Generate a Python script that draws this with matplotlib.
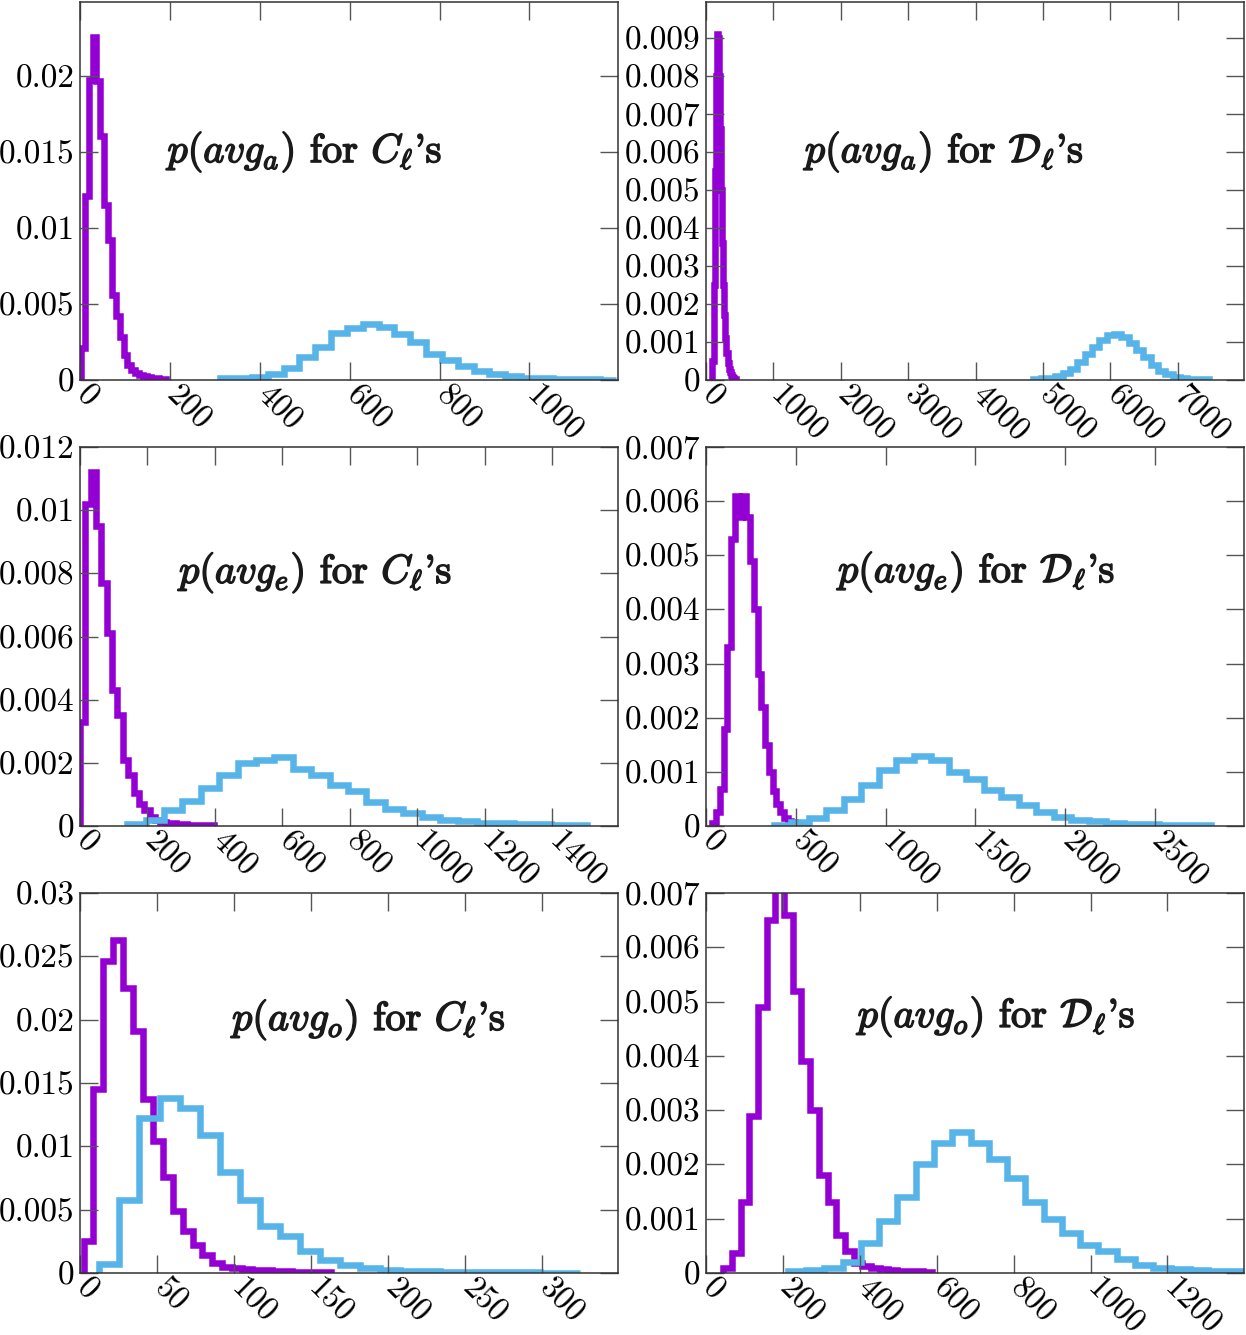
import numpy as np
import matplotlib.pyplot as plt
import matplotlib.patheffects as pe
import matplotlib.transforms as mtransforms
from matplotlib.ticker import MultipleLocator, FuncFormatter

plt.rcParams['font.family'] = 'cmr10'
plt.rcParams['mathtext.fontset'] = 'cm'
plt.rcParams['axes.formatter.use_mathtext'] = True

purple = '#9400d3'
blue = '#56b4e9'

# ---- histogram heights (density) ----
# C_ell, avg_a
cla_h1 = [0.00209, 0.01211, 0.01975, 0.02257, 0.0197, 0.01608, 0.01156, 0.00925,
          0.00562, 0.00419, 0.00286, 0.00165, 0.00099, 0.00066, 0.00044, 0.00033,
          0.00026, 0.00018, 0.00013, 0.0001, 0.00007, 0.00004]
cla_r1 = (2, 192)
cla_h2 = [0.0001, 0.00013, 0.0002, 0.0004, 0.0008, 0.0015, 0.0022, 0.0031, 0.0034,
          0.0037, 0.0035, 0.0030, 0.0025, 0.0017, 0.0013, 0.0009, 0.0006, 0.0004,
          0.00025, 0.00016, 0.0001, 0.00007, 0.00005, 0.00004, 0.00003]
cla_r2 = (312, 1193)

# D_ell, avg_a
dla_h1 = [0.0005, 0.0025, 0.0055, 0.0080, 0.0091, 0.0090, 0.0080, 0.0066, 0.0050,
          0.0036, 0.0025, 0.0017, 0.0011, 0.0007, 0.00045, 0.0003, 0.0002, 0.00012,
          0.00008, 0.00005, 0.00003, 0.00002]
dla_r1 = (96, 448)
dla_h2 = [0.00003, 0.00004, 0.00006, 0.0001, 0.00018, 0.0003, 0.00048, 0.00068,
          0.00088, 0.00105, 0.00118, 0.0012, 0.00112, 0.00098, 0.0008, 0.0006,
          0.0004, 0.00025, 0.00015, 0.00008, 0.00005, 0.00003, 0.00002, 0.00002]
dla_r2 = (4860, 7470)

# C_ell, avg_e
cle_h1 = [0.0033, 0.0102, 0.0112, 0.0095, 0.0077, 0.0061, 0.0043, 0.0035, 0.0021,
          0.0016, 0.00105, 0.0007, 0.0005, 0.0003, 0.0002, 0.00013, 0.0001, 0.00008,
          0.00006, 0.00005, 0.00004, 0.00003, 0.00003, 0.00002, 0.00002]
cle_r1 = (0, 397)
cle_h2 = [0.00005, 0.0002, 0.0005, 0.0008, 0.0012, 0.0016, 0.0020, 0.0021, 0.0022,
          0.0018, 0.0016, 0.0013, 0.0011, 0.00076, 0.00055, 0.0004, 0.00028, 0.0002,
          0.00015, 0.0001, 0.00008, 0.00006, 0.00005, 0.00004, 0.00003]
cle_r2 = (140, 1505)

# D_ell, avg_e
dle_h1 = [0.00006, 0.00025, 0.00068, 0.0018, 0.0033, 0.0053, 0.0061, 0.0057, 0.0061,
          0.0057, 0.0049, 0.0040, 0.0028, 0.0022, 0.0015, 0.0010, 0.00065, 0.0004,
          0.00025, 0.00015, 0.0001, 0.00007, 0.00005, 0.00003, 0.00002]
dle_r1 = (35, 560)
dle_h2 = [0.00002, 0.00007, 0.00014, 0.0003, 0.0005, 0.00075, 0.00103, 0.00121,
          0.0013, 0.00121, 0.001, 0.00087, 0.00066, 0.00054, 0.00038, 0.00026,
          0.00017, 0.00012, 0.00009, 0.00006, 0.00004, 0.00003, 0.00002, 0.00002,
          0.00001]
dle_r2 = (378, 2814)

# C_ell, avg_o
clo_h1 = [0.0025, 0.0145, 0.0246, 0.0263, 0.0225, 0.0191, 0.0137, 0.0104, 0.0076,
          0.0049, 0.0033, 0.0022, 0.0014, 0.0008, 0.0005, 0.0004, 0.0003, 0.00025,
          0.0002, 0.00015, 0.00012, 0.0001, 0.00008, 0.00006, 0.00005]
clo_r1 = (2.3, 163)
clo_h2 = [0.0007, 0.0058, 0.0122, 0.0138, 0.0130, 0.0109, 0.0080, 0.0058, 0.0037,
          0.0029, 0.0017, 0.00105, 0.00066, 0.0004, 0.00026, 0.00018, 0.00013,
          0.0001, 0.00008, 0.00006, 0.00005, 0.00004, 0.00003, 0.00003]
clo_r2 = (12.6, 324.5)

# D_ell, avg_o
dlo_h1 = [0.0001, 0.00037, 0.0013, 0.0029, 0.0049, 0.0065, 0.0071, 0.0066, 0.0052,
          0.0039, 0.0030, 0.0018, 0.0013, 0.0007, 0.0004, 0.00018, 0.00012, 0.00009,
          0.00007, 0.00005, 0.00004, 0.00003, 0.00003, 0.00002]
dlo_r1 = (45, 587)
dlo_h2 = [0.00003, 0.00005, 0.0001, 0.0002, 0.00055, 0.00095, 0.0014, 0.0020,
          0.0024, 0.0026, 0.0024, 0.0021, 0.00175, 0.0013, 0.0010, 0.00074, 0.00052,
          0.0004, 0.00025, 0.00015, 0.0001, 0.00008, 0.00006, 0.00004, 0.00004]
dlo_r2 = (213, 1400)

titles = [r"$p(avg_a)$ for $C_\ell$'s", r"$p(avg_a)$ for $\mathcal{D}_\ell$'s",
          r"$p(avg_e)$ for $C_\ell$'s", r"$p(avg_e)$ for $\mathcal{D}_\ell$'s",
          r"$p(avg_o)$ for $C_\ell$'s", r"$p(avg_o)$ for $\mathcal{D}_\ell$'s"]

# ---- layout ----
W, H = 1246, 1335
fig = plt.figure(figsize=(W / 100, H / 100), dpi=100)

col_x = [80, 706]
row_y = [(2, 380), (447, 826), (893, 1273)]
ax_w = 538

panels = [
    (cla_h1, cla_r1, cla_h2, cla_r2, 1197, 0.0249, 200, 0.005, (0.419, 0.603)),
    (dla_h1, dla_r1, dla_h2, dla_r2, 7985, 0.00995, 1000, 0.001, (0.444, 0.603)),
    (cle_h1, cle_r1, cle_h2, cle_r2, 1596, 0.012, 200, 0.002, (0.439, 0.668)),
    (dle_h1, dle_r1, dle_h2, dle_r2, 2996, 0.007, 500, 0.001, (0.504, 0.670)),
    (clo_h1, clo_r1, clo_h2, clo_r2, 349, 0.03, 50, 0.005, (0.538, 0.666)),
    (dlo_h1, dlo_r1, dlo_h2, dlo_r2, 1399, 0.007, 200, 0.001, (0.541, 0.674)),
]

fmt = FuncFormatter(lambda v, p: '%g' % round(v, 6))
# nudge rotated x labels so they start just left of the tick
lab_shift = mtransforms.ScaledTranslation(-0.09, 0.055, fig.dpi_scale_trans)

for i, (h1, r1, h2, r2, xmax, ymax, xs, ys, txy) in enumerate(panels):
    r, c = divmod(i, 2)
    top, bot = row_y[r]
    ax = fig.add_axes([col_x[c] / W, 1 - bot / H, ax_w / W, (bot - top) / H])

    e1 = np.linspace(r1[0], r1[1], len(h1) + 1)
    e2 = np.linspace(r2[0], r2[1], len(h2) + 1)
    ax.stairs(h1, e1, baseline=0, fill=False, color=purple, lw=4.7)
    ax.stairs(h2, e2, baseline=0, fill=False, color=blue, lw=4.7)

    ax.set_xlim(0, xmax)
    ax.set_ylim(0, ymax)
    xt = np.arange(0, xmax, xs)
    ax.set_xticks(xt, ['%g' % v for v in xt], rotation=-45, ha='left',
                  rotation_mode='default')
    ax.yaxis.set_major_locator(MultipleLocator(ys))
    ax.yaxis.set_major_formatter(fmt)
    ax.tick_params(direction='in', length=13, width=1, color='#555555',
                   top=True, right=True, labelsize=24, pad=4)
    ax.tick_params(axis='x', labelsize=23.5)
    for lab in ax.get_xticklabels():
        lab.set_transform(lab.get_transform() + lab_shift)
    for s in ax.spines.values():
        s.set_color('#333333')
        s.set_linewidth(1.1)

    t = ax.text(txy[0], txy[1], titles[i], transform=ax.transAxes,
                ha='center', va='center', fontsize=29, color='#1a1a1a')
    t.set_path_effects([pe.withStroke(linewidth=1.1, foreground='#1a1a1a')])

fig.savefig('out.png', dpi=100)
